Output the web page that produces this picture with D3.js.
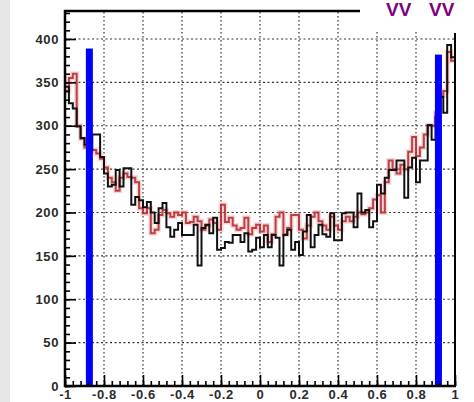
<!DOCTYPE html>
<html>
<head>
<meta charset="utf-8">
<script src="https://cdn.jsdelivr.net/npm/d3@7"></script>
<style>
  body { margin: 0; background: #fff; }
  .tick text { font-family: "Liberation Sans", Arial, sans-serif; font-weight: bold; font-size: 13px; fill: #2b2b2b; letter-spacing: 0.6px; }
</style>
</head>
<body>
<div id="chart"></div>
<script>
// histogram range
const xMin = -1, xMax = 1, nBins = 100;

// tick values
const xTicks = [-1, -0.8, -0.6, -0.4, -0.2, 0, 0.2, 0.4, 0.6, 0.8, 1];
const yTicks = [0, 50, 100, 150, 200, 250, 300, 350, 400];

// black histogram (entries per bin, left -> right)
const blackCounts = [
  345, 326, 320, 299, 286, 278, 272, 290, 290, 264,
  245, 230, 232, 249, 230, 251, 251, 209, 218, 214,
  206, 212, 200, 188, 205, 211, 183, 172, 180, 188,
  174, 174, 174, 186, 139, 182, 186, 176, 194, 157,
  159, 166, 165, 174, 174, 166, 176, 155, 157, 171,
  160, 174, 160, 174, 171, 139, 174, 180, 157, 166,
  151, 178, 197, 160, 174, 186, 175, 172, 199, 168,
  168, 199, 200, 200, 183, 222, 200, 203, 183, 190,
  232, 222, 240, 249, 249, 260, 260, 217, 252, 263,
  235, 260, 260, 301, 284, 310, 333, 315, 393, 379
];

// red histogram
const redCounts = [
  340, 355, 360, 300, 285, 275, 270, 272, 268, 262,
  252, 240, 235, 225, 240, 245, 241, 240, 235, 205,
  199, 205, 176, 180, 197, 203, 199, 195, 200, 197,
  200, 188, 189, 195, 190, 180, 185, 192, 188, 180,
  209, 189, 194, 185, 180, 182, 194, 175, 182, 186,
  178, 185, 166, 175, 195, 200, 175, 182, 197, 197,
  180, 170, 185, 195, 200, 190, 185, 180, 195, 185,
  180, 190, 195, 190, 195, 200, 198, 200, 205, 215,
  220, 200, 235, 260, 250, 245, 255, 250, 270, 287,
  265, 275, 290, 300, 300, 315, 335, 340, 385, 375
];

// blue cut markers
const cutX = [-0.875, 0.915];
const cutHeights = [389, 382];

const headerText = ["VV", "VV"];

const width = 474, height = 402;

const svg = d3.select("#chart").append("svg")
    .attr("width", width)
    .attr("height", height);

// gray strip on the left edge
svg.append("rect")
    .attr("x", 0).attr("y", 0)
    .attr("width", 10).attr("height", height)
    .attr("fill", "#e6e6e6");

const x = d3.scaleLinear().domain([xMin, xMax]).range([65, 455]);
const y = d3.scaleLinear().domain([0, 400]).range([386, 39]);

const binW = (xMax - xMin) / nBins;
const edges = d3.range(nBins + 1).map(i => xMin + i * binW);

// grid
const grid = svg.append("g");
xTicks.slice(1, -1).forEach(t => {
    grid.append("line")
        .attr("x1", x(t)).attr("x2", x(t))
        .attr("y1", 12).attr("y2", 386)
        .attr("stroke", "#333")
        .attr("stroke-width", 1.2)
        .attr("stroke-dasharray", "1.5 2.5");
});
yTicks.slice(1).forEach(t => {
    grid.append("line")
        .attr("x1", 65).attr("x2", 455)
        .attr("y1", y(t)).attr("y2", y(t))
        .attr("stroke", "#333")
        .attr("stroke-width", 1.2)
        .attr("stroke-dasharray", "2 2.5");
});

// step outline of a histogram
function stepPath(counts) {
    let d = `M ${x(edges[0])},${y(counts[0])}`;
    counts.forEach((c, i) => {
        if (i > 0) d += ` V ${y(c)}`;
        d += ` H ${x(edges[i + 1])}`;
    });
    return d;
}

// red histogram with soft halo
svg.append("path")
    .attr("d", stepPath(redCounts))
    .attr("fill", "none")
    .attr("stroke", "#e58a8a")
    .attr("stroke-opacity", 0.35)
    .attr("stroke-width", 5);
svg.append("path")
    .attr("d", stepPath(redCounts))
    .attr("fill", "none")
    .attr("stroke", "#b3262c")
    .attr("stroke-opacity", 0.85)
    .attr("stroke-width", 2);

// black histogram
svg.append("path")
    .attr("d", stepPath(blackCounts))
    .attr("fill", "none")
    .attr("stroke", "#111")
    .attr("stroke-width", 2);

// blue cut bars
cutX.forEach((cx, i) => {
    svg.append("rect")
        .attr("x", x(cx) - 3.5)
        .attr("y", y(cutHeights[i]))
        .attr("width", 7)
        .attr("height", y(0) - y(cutHeights[i]))
        .attr("fill", "#0000ff");
});

// white patch over top-right corner (frame is cut there)
svg.append("rect")
    .attr("x", 361).attr("y", 0)
    .attr("width", width - 361).attr("height", 32)
    .attr("fill", "#fff");

// axes: major ticks with labels, minor ticks without
const fmt = d => Math.abs(d) < 1e-9 ? "0" : String(+d.toFixed(1));

const xAxis = svg.append("g")
    .attr("transform", "translate(0,386)")
    .call(d3.axisBottom(x).tickValues(xTicks).tickSize(-11).tickPadding(4).tickFormat(fmt));
const xMinor = svg.append("g")
    .attr("transform", "translate(0,386)")
    .call(d3.axisBottom(x).tickValues(d3.range(0, 51).map(i => xMin + i * 0.04)).tickSize(-5).tickFormat(""));

const yAxis = svg.append("g")
    .attr("transform", "translate(65,0)")
    .call(d3.axisLeft(y).tickValues(yTicks).tickSize(-11).tickPadding(6).tickFormat(fmt));
const yMinor = svg.append("g")
    .attr("transform", "translate(65,0)")
    .call(d3.axisLeft(y).tickValues(d3.range(0, 44).map(i => i * 10)).tickSize(-5).tickFormat(""));

[xAxis, xMinor, yAxis, yMinor].forEach(g => {
    g.select(".domain").remove();
    g.selectAll(".tick line").attr("stroke", "#000").attr("stroke-width", 1.6);
});

// frame
svg.append("line").attr("x1", 64).attr("x2", 456).attr("y1", 386).attr("y2", 386)
    .attr("stroke", "#000").attr("stroke-width", 2.5);
svg.append("line").attr("x1", 65).attr("x2", 65).attr("y1", 10).attr("y2", 387)
    .attr("stroke", "#000").attr("stroke-width", 2.5);
svg.append("line").attr("x1", 64).attr("x2", 360).attr("y1", 11).attr("y2", 11)
    .attr("stroke", "#000").attr("stroke-width", 2.5);
svg.append("line").attr("x1", 455).attr("x2", 455).attr("y1", 33).attr("y2", 387)
    .attr("stroke", "#000").attr("stroke-width", 2);

// purple header at the top right
[386, 429].forEach((hx, i) => {
    svg.append("text")
        .attr("x", hx)
        .attr("y", 16)
        .attr("font-family", "Liberation Sans, Arial, sans-serif")
        .attr("font-weight", "bold")
        .attr("font-size", "19px")
        .attr("fill", "#800080")
        .text(headerText[i]);
});
</script>
</body>
</html>
